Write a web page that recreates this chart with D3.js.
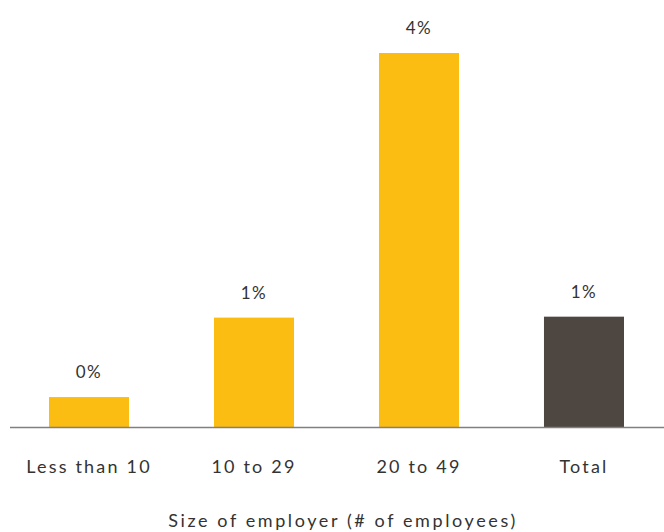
<!DOCTYPE html>
<html>
<head>
<meta charset="utf-8">
<script src="https://cdn.jsdelivr.net/npm/d3@7"></script>
<style>
  html, body { margin: 0; padding: 0; background: #fff; }
  svg text { font-family: Lato, "Open Sans", sans-serif; font-weight: 400; fill: #333; }
</style>
</head>
<body>
<svg id="chart" width="664" height="532"></svg>
<script>
// Share of employers by size band
const categories = ["Less than 10", "10 to 29", "20 to 49", "Total"];
const values = [0.32, 1.17, 4.0, 1.18];
const barColors = ["#FBBD12", "#FBBD12", "#FBBD12", "#4E4641"];
const axisTitle = "Size of employer (# of employees)";

const svg = d3.select("#chart");
const W = 664, H = 532;
const baseY = 427;

const x = d3.scaleBand()
  .domain(categories)
  .range([49, 624])
  .paddingInner(0.515)
  .paddingOuter(0);

const y = d3.scaleLinear()
  .domain([0, 4])
  .range([baseY, 53]);

// bars
svg.selectAll("rect.bar")
  .data(categories)
  .join("rect")
  .attr("class", "bar")
  .attr("x", d => x(d))
  .attr("width", x.bandwidth())
  .attr("y", (d, i) => y(values[i]))
  .attr("height", (d, i) => y(0) - y(values[i]))
  .attr("fill", (d, i) => barColors[i]);

// value labels
svg.selectAll("text.val")
  .data(categories)
  .join("text")
  .attr("class", "val")
  .attr("x", d => x(d) + x.bandwidth() / 2)
  .attr("y", (d, i) => y(values[i]) - 19)
  .attr("text-anchor", "middle")
  .style("font-size", "17px")
  .style("letter-spacing", "1.5px")
  .text((d, i) => Math.round(values[i]) + "%");

// baseline
svg.append("line")
  .attr("x1", 10).attr("x2", W)
  .attr("y1", baseY + 0.5).attr("y2", baseY + 0.5)
  .attr("stroke", "#808080")
  .attr("stroke-width", 1.6);

// category labels
const xAxis = d3.axisBottom(x).tickSize(0).tickPadding(0);
const gx = svg.append("g")
  .attr("transform", `translate(0,${baseY})`)
  .call(xAxis);
gx.select(".domain").remove();
gx.selectAll("text")
  .attr("y", 46)
  .attr("dy", 0)
  .style("font-size", "18px")
  .style("letter-spacing", "2.2px")
  .style("font-family", "Lato, 'Open Sans', sans-serif")
  .attr("fill", "#333");

// axis title
svg.append("text")
  .attr("x", 343)
  .attr("y", 527)
  .attr("text-anchor", "middle")
  .style("font-size", "18px")
  .style("letter-spacing", "2.6px")
  .text(axisTitle);
</script>
</body>
</html>
